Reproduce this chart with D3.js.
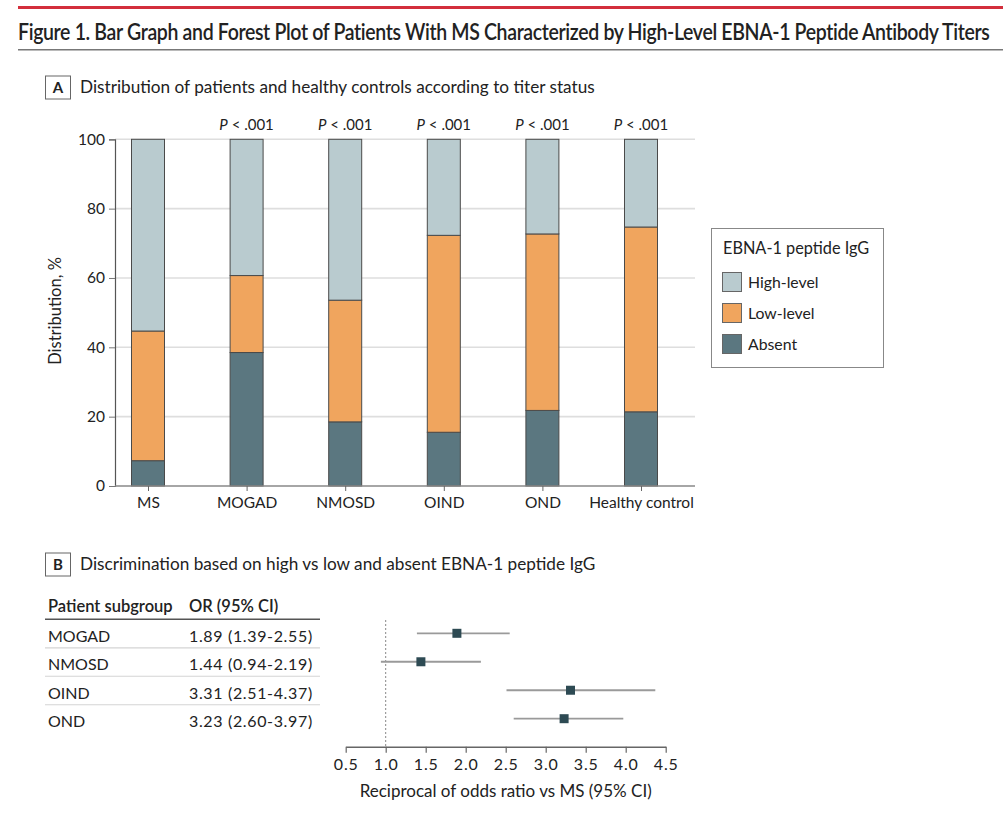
<!DOCTYPE html>
<html>
<head>
<meta charset="utf-8">
<script src="https://cdn.jsdelivr.net/npm/d3@7"></script>
<style>
  body { margin: 0; background: #fff; }
  svg text { font-family: Lato, "Open Sans", sans-serif; fill: #222; }
</style>
</head>
<body>
<div id="chart"></div>
<script>
// Panel A data (percent of each group)
const categories = ["MS", "MOGAD", "NMOSD", "OIND", "OND", "Healthy control"];
const absentPct = [7.3, 38.5, 18.5, 15.5, 21.8, 21.4];
const lowPct = [37.4, 22.2, 35.1, 56.8, 50.9, 53.3];
const highPct = [55.3, 39.3, 46.4, 27.7, 27.3, 25.3];
const pLabels = ["", ".001", ".001", ".001", ".001", ".001"];
const yTicks = [0, 20, 40, 60, 80, 100];

// Panel B data
const subgroups = ["MOGAD", "NMOSD", "OIND", "OND"];
const orValues = [1.89, 1.44, 3.31, 3.23];
const ciLow = [1.39, 0.94, 2.51, 2.6];
const ciHigh = [2.55, 2.19, 4.37, 3.97];
const xTicks = [0.5, 1.0, 1.5, 2.0, 2.5, 3.0, 3.5, 4.0, 4.5];

const levels = [
  { key: "high", label: "High-level", color: "#b9cbcf" },
  { key: "low", label: "Low-level", color: "#f0a55e" },
  { key: "absent", label: "Absent", color: "#5b7780" }
];

const width = 1003, height = 822;
const svg = d3.select("#chart").append("svg")
  .attr("width", width).attr("height", height);

// header: squeeze the title horizontally so it fits the rule width
svg.append("rect").attr("x", 18).attr("y", 6).attr("width", width - 18).attr("height", 3).attr("fill", "#d32f3c");
const title = svg.append("text")
  .attr("font-size", 22.5).attr("font-weight", 600)
  .style("letter-spacing", "-0.4px")
  .text("Figure 1. Bar Graph and Forest Plot of Patients With MS Characterized by High-Level EBNA-1 Peptide Antibody Titers");
const titleLen = title.node().getComputedTextLength();
title.attr("transform", `translate(18,40) scale(${972 / titleLen},1)`);
svg.append("rect").attr("x", 18).attr("y", 49).attr("width", width - 18).attr("height", 1.5).attr("fill", "#777");

function panelLabel(letter, y, title) {
  svg.append("rect").attr("x", 45.5).attr("y", y).attr("width", 25).attr("height", 23)
    .attr("fill", "none").attr("stroke", "#666").attr("stroke-width", 1);
  svg.append("text").attr("x", 58).attr("y", y + 17).attr("text-anchor", "middle")
    .attr("font-size", 15).attr("font-weight", 700).text(letter);
  svg.append("text").attr("x", 80).attr("y", y + 17)
    .attr("font-size", 17.2).text(title);
}

panelLabel("A", 76, "Distribution of patients and healthy controls according to titer status");
panelLabel("B", 553, "Discrimination based on high vs low and absent EBNA-1 peptide IgG");

// ---------- Panel A: stacked bars ----------
const rows = categories.map((c, i) => ({
  cat: c, absent: absentPct[i], low: lowPct[i], high: highPct[i]
}));
const stack = d3.stack().keys(["absent", "low", "high"])(rows);

const x = d3.scalePoint().domain(categories).range([148, 641]);
const y = d3.scaleLinear().domain([0, 100]).range([486, 139.3]);
const barW = 33;
const plotLeft = 115, plotRight = 695;

const gA = svg.append("g");

gA.append("g").selectAll("line").data(yTicks.filter(d => d > 0)).join("line")
  .attr("x1", plotLeft).attr("x2", plotRight)
  .attr("y1", d => y(d)).attr("y2", d => y(d))
  .attr("stroke", "#dedede").attr("stroke-width", 1.6);

const colorOf = Object.fromEntries(levels.map(l => [l.key, l.color]));

gA.append("g").selectAll("g").data(stack).join("g")
  .attr("fill", d => colorOf[d.key])
  .selectAll("rect").data(d => d).join("rect")
  .attr("x", d => x(d.data.cat) - barW / 2)
  .attr("width", barW)
  .attr("y", d => y(d[1]))
  .attr("height", d => y(d[0]) - y(d[1]))
  .attr("stroke", "#4a4a4a").attr("stroke-width", 1);

// y axis
const yAxis = gA.append("g").attr("transform", `translate(${plotLeft},0)`)
  .call(d3.axisLeft(y).tickValues(yTicks).tickSize(6).tickPadding(4));
yAxis.select(".domain").attr("stroke", "#555").attr("stroke-width", 1.2);
yAxis.selectAll(".tick line").attr("stroke", "#777");
yAxis.selectAll("text").attr("font-size", 15.5).style("font-family", "Lato, sans-serif").attr("fill", "#222");

// x axis
const xAxis = gA.append("g").attr("transform", `translate(0,${y(0)})`)
  .call(d3.axisBottom(x).tickSize(5).tickPadding(6).tickSizeOuter(0));
xAxis.select(".domain").attr("d", `M${plotLeft},0H${plotRight}`).attr("stroke", "#888").attr("stroke-width", 1.4);
xAxis.selectAll(".tick line").attr("stroke", "#666");
xAxis.selectAll("text").attr("font-size", 15.5).style("font-family", "Lato, sans-serif").attr("fill", "#222");

gA.append("text")
  .attr("transform", `translate(61,311) rotate(-90)`)
  .attr("text-anchor", "middle").attr("font-size", 16.5)
  .text("Distribution, %");

// P values
const pText = gA.append("g").selectAll("text").data(categories.filter((c, i) => pLabels[i])).join("text")
  .attr("x", d => x(d)).attr("y", 130)
  .attr("text-anchor", "middle").attr("font-size", 15);
pText.append("tspan").attr("font-style", "italic").text("P");
pText.append("tspan").text(d => " < " + pLabels[categories.indexOf(d)]);

// legend
const lg = svg.append("g");
lg.append("rect").attr("x", 711.5).attr("y", 228.5).attr("width", 172).attr("height", 139)
  .attr("fill", "#fff").attr("stroke", "#888").attr("stroke-width", 1);
lg.append("text").attr("x", 723).attr("y", 254).attr("font-size", 16.3).text("EBNA-1 peptide IgG");
levels.forEach((l, i) => {
  const yy = 272 + i * 31;
  lg.append("rect").attr("x", 722.5).attr("y", yy + 0.5).attr("width", 19).attr("height", 19)
    .attr("fill", l.color).attr("stroke", "#666").attr("stroke-width", 1);
  lg.append("text").attr("x", 748).attr("y", yy + 16).attr("font-size", 15.8).text(l.label);
});

// ---------- Panel B: table + forest plot ----------
const fx = d3.scaleLinear().domain([0.5, 4.5]).range([345.7, 665.7]);
const rowY = d3.scalePoint().domain(subgroups).range([633.3, 718.7]);
const fmt = d3.format(".2f");

const gB = svg.append("g");
gB.append("text").attr("x", 48).attr("y", 612).attr("font-size", 16.5).attr("font-weight", 600).text("Patient subgroup");
gB.append("text").attr("x", 189).attr("y", 612).attr("font-size", 16.5).attr("font-weight", 600).text("OR (95% CI)");
gB.append("line").attr("x1", 45).attr("x2", 320).attr("y1", 619.3).attr("y2", 619.3)
  .attr("stroke", "#555").attr("stroke-width", 1.5);

gB.append("g").selectAll("line").data(subgroups.slice(0, -1)).join("line")
  .attr("x1", 45).attr("x2", 320)
  .attr("y1", d => rowY(d) + 14.5).attr("y2", d => rowY(d) + 14.5)
  .attr("stroke", "#d4d4d4").attr("stroke-width", 1.2);

gB.append("g").selectAll("text").data(subgroups).join("text")
  .attr("x", 48).attr("y", d => rowY(d) + 8.4).attr("font-size", 16).text(d => d);
gB.append("g").selectAll("text").data(subgroups).join("text")
  .attr("x", 189).attr("y", d => rowY(d) + 8.4).attr("font-size", 16)
  .style("letter-spacing", "0.65px")
  .text((d, i) => `${fmt(orValues[i])} (${fmt(ciLow[i])}-${fmt(ciHigh[i])})`);

// reference line at 1
gB.append("line").attr("x1", fx(1)).attr("x2", fx(1)).attr("y1", 620).attr("y2", 746.7)
  .attr("stroke", "#888").attr("stroke-width", 1).attr("stroke-dasharray", "2,2");

gB.append("g").selectAll("line").data(subgroups).join("line")
  .attr("x1", (d, i) => fx(ciLow[i])).attr("x2", (d, i) => fx(ciHigh[i]))
  .attr("y1", d => rowY(d)).attr("y2", d => rowY(d))
  .attr("stroke", "#9a9a9a").attr("stroke-width", 1.8);

gB.append("g").selectAll("rect").data(subgroups).join("rect")
  .attr("x", (d, i) => fx(orValues[i]) - 4.5).attr("y", d => rowY(d) - 4.5)
  .attr("width", 9).attr("height", 9).attr("fill", "#2d4a53");

const fAxis = gB.append("g").attr("transform", "translate(0,746.7)")
  .call(d3.axisBottom(fx).tickValues(xTicks).tickFormat(d3.format(".1f")).tickSize(6).tickPadding(6).tickSizeOuter(0));
fAxis.select(".domain").attr("stroke", "#666").attr("stroke-width", 1.4);
fAxis.selectAll(".tick line").attr("stroke", "#666").attr("stroke-width", 1.2);
fAxis.selectAll("text").attr("font-size", 16).style("font-family", "Lato, sans-serif")
  .style("letter-spacing", "0.8px").attr("fill", "#222");

gB.append("text").attr("x", fx(2.5)).attr("y", 797).attr("text-anchor", "middle")
  .attr("font-size", 17).text("Reciprocal of odds ratio vs MS (95% CI)");
</script>
</body>
</html>
